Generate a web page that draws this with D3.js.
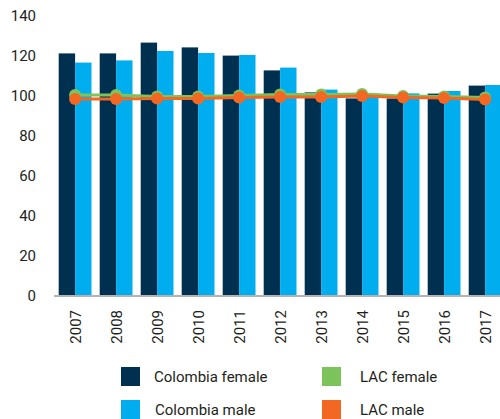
<!DOCTYPE html>
<html><head><meta charset="utf-8">
<script src="https://cdn.jsdelivr.net/npm/d3@7"></script>
<style>body{margin:0;background:#fff;} svg{display:block;font-family:Roboto,"DejaVu Sans",sans-serif;}</style>
</head><body>
<svg id="c" width="500" height="419"></svg>
<script>
const years = ["2007","2008","2009","2010","2011","2012","2013","2014","2015","2016","2017"];
const colombiaFemale = [121.3,121.3,126.7,124.3,120.2,112.8,101.8,98.8,98.8,101.2,105.2];
const colombiaMale   = [116.7,117.8,122.5,121.5,120.5,114.2,103.2,101.3,101.3,102.5,105.5];
const lacFemale      = [100.5,100.5,99.7,99.7,100.2,100.8,100.8,101.0,100.0,99.7,99.2];
const lacMale        = [98.5,98.5,98.8,98.8,99.2,99.5,99.5,100.0,99.3,99.0,98.3];
const yTicks = [0,20,40,60,80,100,120,140];
const legendLabels = ["Colombia female","Colombia male","LAC female","LAC male"];

const colors = {cf:"#00304f", cm:"#00aeef", lf:"#7dc35b", lm:"#f26722"};
const svg = d3.select("#c");
const y = d3.scaleLinear().domain([0,140]).range([296,16]);
const x = d3.scaleBand().domain(years).range([54.6,505.6]).paddingInner(0.2).paddingOuter(0.1);
const bw = x.bandwidth()/2;

// y tick labels
svg.append("g").selectAll("text").data(yTicks).join("text")
  .attr("x",36).attr("y",d=>y(d)).attr("dy","0.36em").attr("text-anchor","end")
  .attr("font-size",15).attr("fill","#231f20").text(d=>d);

// bars
const g = svg.append("g");
g.selectAll("rect.f").data(years).join("rect").attr("class","f")
  .attr("x",d=>x(d)).attr("width",bw).attr("y",(d,i)=>y(colombiaFemale[i]))
  .attr("height",(d,i)=>y(0)-y(colombiaFemale[i])).attr("fill",colors.cf);
g.selectAll("rect.m").data(years).join("rect").attr("class","m")
  .attr("x",d=>x(d)+bw).attr("width",bw).attr("y",(d,i)=>y(colombiaMale[i]))
  .attr("height",(d,i)=>y(0)-y(colombiaMale[i])).attr("fill",colors.cm);

// axis line
svg.append("line").attr("x1",54).attr("x2",500).attr("y1",y(0)).attr("y2",y(0))
  .attr("stroke","#b3b3b3").attr("stroke-width",2);

// lines
const cx = d=>x(d)+bw;
function series(vals,col){
  const line = d3.line().x((d,i)=>cx(years[i])).y(d=>y(d));
  svg.append("path").datum(vals).attr("d",line).attr("fill","none").attr("stroke",col).attr("stroke-width",3);
  svg.append("g").selectAll("circle").data(vals).join("circle")
    .attr("cx",(d,i)=>cx(years[i])).attr("cy",d=>y(d)).attr("r",6).attr("fill",col);
}
series(lacFemale,colors.lf);
series(lacMale,colors.lm);

// x labels
svg.append("g").selectAll("text").data(years).join("text")
  .attr("transform",d=>`translate(${cx(d)},310) rotate(-90)`)
  .attr("text-anchor","end").attr("dy","0.36em").attr("font-size",15).attr("fill","#231f20").text(d=>d);

// legend
const leg = [
  {l:legendLabels[0],c:colors.cf,x:121,y:367,tx:154},
  {l:legendLabels[1],c:colors.cm,x:121,y:400,tx:155},
  {l:legendLabels[2],c:colors.lf,x:322,y:367,tx:360},
  {l:legendLabels[3],c:colors.lm,x:322,y:400,tx:360}];
const lg = svg.append("g").selectAll("g").data(leg).join("g");
lg.append("rect").attr("x",d=>d.x).attr("y",d=>d.y).attr("width",19).attr("height",19).attr("fill",d=>d.c);
lg.append("text").attr("x",d=>d.tx).attr("y",d=>d.y+9.5).attr("dy","0.36em")
  .attr("font-size",15).attr("fill","#231f20").text(d=>d.l);
</script>
</body></html>
